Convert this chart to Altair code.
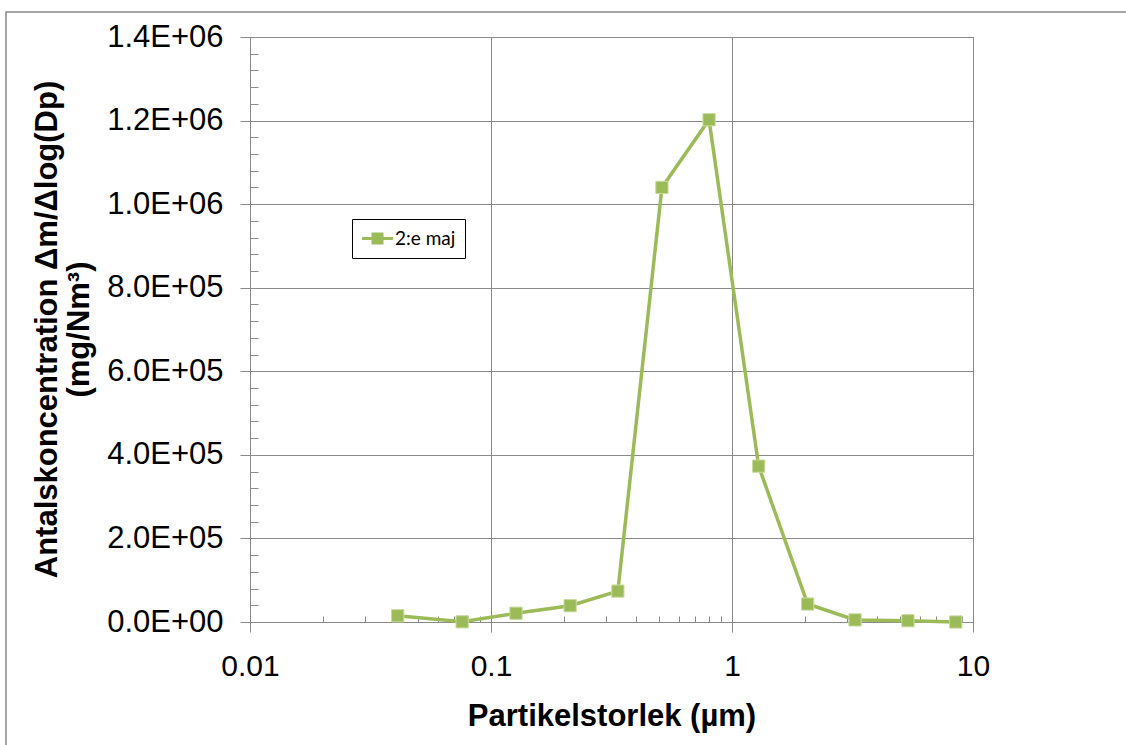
import altair as alt
import pandas as pd

# Particle size (µm) and mass concentration per size class
size_um = [0.041, 0.0759, 0.127, 0.213, 0.336, 0.512, 0.803, 1.29, 2.06, 3.24, 5.37, 8.48]
conc = [15000, 500, 21000, 39000, 74000, 1040000, 1202000, 373000, 43000, 5000, 3000, 0]
series_name = "2:e maj"

# Axis ticks
x_major = [0.01, 0.1, 1, 10]
x_minor = [k * d for d in (0.01, 0.1, 1) for k in range(2, 10)]
y_major = [0, 200000, 400000, 600000, 800000, 1000000, 1200000, 1400000]
y_minor = [v + j * 40000 for v in y_major[:-1] for j in range(1, 5)]

GREEN = "#9BBB59"
GRAY = "#898989"
FONT = "Liberation Sans"

df = pd.DataFrame({"size": size_um, "conc": conc, "series": series_name})

x_scale = alt.Scale(type="log", domain=[0.01, 10])
y_scale = alt.Scale(domain=[0, 1400000], nice=False, zero=True)

base = alt.Chart(df)

line = base.mark_line(color=GREEN, strokeWidth=3.5).encode(
    x=alt.X("size:Q", scale=x_scale,
            axis=alt.Axis(values=x_major, format="~g", tickSize=10,
                          grid=True, gridColor=GRAY, gridWidth=1,
                          tickColor=GRAY, domainColor=GRAY,
                          labelFont=FONT, labelFontSize=30, labelColor="black",
                          labelPadding=19, labelFlush=False,
                          title="Partikelstorlek (µm)", titleFont=FONT,
                          titleFontSize=31, titleFontWeight="bold",
                          titleColor="black", titleBaseline="alphabetic",
                          titleY=103)),
    y=alt.Y("conc:Q", scale=y_scale,
            axis=alt.Axis(values=y_major,
                          labelExpr="replace(format(datum.value, '.1e'), 'e+', 'E+0')",
                          tickSize=10, grid=True, gridColor=GRAY, gridWidth=1,
                          tickColor=GRAY, domainColor=GRAY,
                          labelFont=FONT, labelFontSize=31, labelColor="black",
                          labelPadding=17, labelFlush=False,
                          title=["Antalskoncentration Δm/Δlog(Dp)", "(mg/Nm³)"],
                          titleFont=FONT, titleFontSize=31, titleFontWeight="bold",
                          titleColor="black", titleLineHeight=32,
                          titleBaseline="alphabetic", titleAlign="center",
                          titleAngle=270, titleX=-194, titleY=292)),
)

points = base.mark_point(shape="square", filled=True, size=150, opacity=1,
                         stroke="#C8DB9E", strokeWidth=1).encode(
    x=alt.X("size:Q", scale=x_scale, axis=None),
    y=alt.Y("conc:Q", scale=y_scale, axis=None),
    color=alt.Color("series:N",
                    scale=alt.Scale(domain=[series_name], range=[GREEN]),
                    legend=alt.Legend(
                        title=None, orient="none", legendX=102, legendY=182,
                        symbolType="M-1.72,0H1.72M-0.5,-0.5H0.5V0.5H-0.5Z",
                        symbolSize=324, symbolStrokeWidth=3,
                        symbolStrokeColor=GREEN, symbolFillColor=GREEN,
                        symbolOffset=6,
                        labelFont="Lato", labelFontSize=19, labelColor="black",
                        labelOffset=7,
                        labelExpr="datum.label + '\u2002\u2002\u2002\u2002\u2002'",
                        padding=9, strokeColor="black", fillColor="white")),
)

# Short inward minor ticks on both axes
minor = base.mark_point(opacity=0).encode(
    x=alt.X("size:Q", scale=x_scale,
            axis=alt.Axis(values=x_minor, orient="bottom", offset=-6, tickSize=6,
                          tickColor=GRAY, domain=False, labels=False, grid=False,
                          title=None)),
    y=alt.Y("conc:Q", scale=y_scale,
            axis=alt.Axis(values=y_minor, orient="left", offset=-8, tickSize=8,
                          tickColor=GRAY, domain=False, labels=False, grid=False,
                          title=None)),
)

# Outer chart frame
frame = alt.Chart(pd.DataFrame({"k": [0]})).mark_rect(
    fill=None, stroke=GRAY, strokeWidth=1.5
).encode(
    x=alt.value(-244), x2=alt.value(900),
    y=alt.value(-25), y2=alt.value(730),
)

chart = alt.layer(frame, line, points, minor).resolve_axis(
    x="independent", y="independent"
).properties(
    width=723, height=585,
    autosize=alt.AutoSizeParams(type="none"),
    padding={"left": 250, "top": 37, "right": 153, "bottom": 123},
).configure_view(stroke=GRAY, strokeWidth=1)

chart.save("out.html", embed_options={"renderer": "svg", "actions": False})
